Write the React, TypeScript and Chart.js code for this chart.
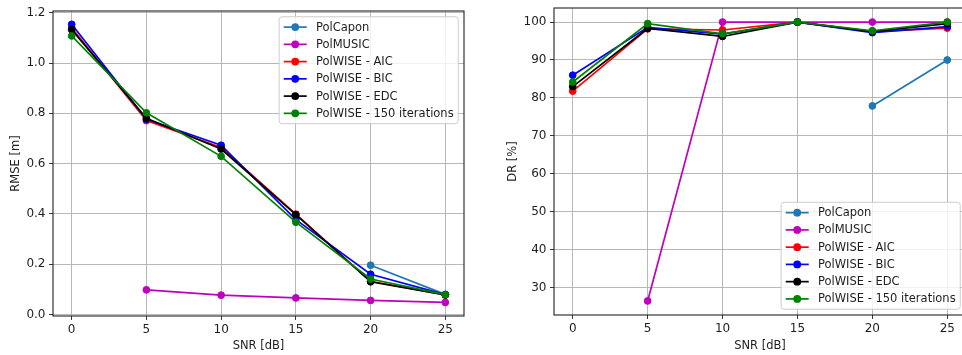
import React, { useEffect, useRef } from 'react';
import { Chart, registerables } from 'chart.js';

Chart.register(...registerables);

const snr = [0, 5, 10, 15, 20, 25];
const seriesNames = ['PolCapon', 'PolMUSIC', 'PolWISE - AIC', 'PolWISE - BIC', 'PolWISE - EDC', 'PolWISE - 150 iterations'];
const seriesColors = ['#1f77b4', '#bf00bf', '#ff0000', '#0000ff', '#000000', '#008000'];

const rmseCapon = [null, null, null, null, 0.196, 0.080];
const rmseMusic = [null, 0.098, 0.077, 0.066, 0.056, 0.048];
const rmseAic = [1.140, 0.771, 0.664, 0.399, 0.132, 0.078];
const rmseBic = [1.154, 0.776, 0.673, 0.377, 0.160, 0.079];
const rmseEdc = [1.133, 0.780, 0.658, 0.397, 0.130, 0.078];
const rmse150 = [1.108, 0.802, 0.629, 0.367, 0.141, 0.079];

const drCapon = [null, null, null, null, 77.9, 90.0];
const drMusic = [null, 26.5, 100, 100, 100, 100];
const drAic = [81.8, 98.2, 97.9, 100, 97.5, 98.4];
const drBic = [86.0, 98.6, 96.8, 100, 97.2, 98.8];
const drEdc = [83.0, 98.3, 96.2, 100, 97.5, 99.6];
const dr150 = [84.2, 99.6, 96.9, 100, 97.7, 100];

const xTicks = [0, 5, 10, 15, 20, 25];
const rmseTicks = [0, 0.2, 0.4, 0.6, 0.8, 1.0, 1.2];
const drTicks = [30, 40, 50, 60, 70, 80, 90, 100];

const FAMILY = '"DejaVu Sans", sans-serif';
const TEXT = '#1e1e1e';
const LEG_FS = 11.5;

const mplPlugin = {
  id: 'mplDecor',
  afterDatasetsDraw(chart: any, _args: any, opts: any) {
    const { ctx, chartArea } = chart;
    ctx.save();
    // spines
    ctx.strokeStyle = '#222';
    ctx.lineWidth = 1.1;
    ctx.strokeRect(chartArea.left, chartArea.top, chartArea.right - chartArea.left, chartArea.bottom - chartArea.top);
    // legend
    const fs = LEG_FS;
    ctx.font = `${fs}px ${FAMILY}`;
    const ds = chart.data.datasets;
    const textW = Math.max(...ds.map((d: any) => ctx.measureText(d.label).width));
    const pad = 0.4 * fs, handle = 2 * fs, gap = 0.8 * fs, spacing = 0.5 * fs, axpad = 0.5 * fs;
    const w = pad * 2 + handle + gap + textW;
    const h = pad * 2 + ds.length * fs + (ds.length - 1) * spacing;
    const x = chartArea.right - axpad - w;
    const y = opts.loc === 'upper right' ? chartArea.top + axpad : chartArea.bottom - axpad - h;
    ctx.beginPath();
    if ((ctx as any).roundRect) (ctx as any).roundRect(x, y, w, h, 3);
    else ctx.rect(x, y, w, h);
    ctx.fillStyle = 'rgba(255,255,255,0.8)';
    ctx.fill();
    ctx.strokeStyle = '#cccccc';
    ctx.lineWidth = 1;
    ctx.stroke();
    ds.forEach((d: any, i: number) => {
      const cy = y + pad + i * (fs + spacing) + fs / 2;
      const lx = x + pad;
      ctx.strokeStyle = d.borderColor;
      ctx.lineWidth = 1.7;
      ctx.beginPath();
      ctx.moveTo(lx, cy);
      ctx.lineTo(lx + handle, cy);
      ctx.stroke();
      ctx.beginPath();
      ctx.arc(lx + handle / 2, cy, 3.9, 0, Math.PI * 2);
      ctx.fillStyle = d.borderColor;
      ctx.fill();
      ctx.fillStyle = TEXT;
      ctx.textBaseline = 'middle';
      ctx.textAlign = 'left';
      ctx.fillText(d.label, lx + handle + gap, cy + 0.5);
    });
    ctx.restore();
  },
};

function makeConfig(p: any) {
  const n = p.series.length;
  return {
    type: 'line',
    data: {
      datasets: p.series.map((vals: any[], i: number) => ({
        label: seriesNames[i],
        data: snr.map((s, j) => ({ x: s, y: vals[j] })),
        borderColor: seriesColors[i],
        backgroundColor: seriesColors[i],
        pointBackgroundColor: seriesColors[i],
        pointBorderColor: seriesColors[i],
        borderWidth: 1.7,
        pointRadius: 3.4,
        pointBorderWidth: 1,
        spanGaps: false,
        tension: 0,
        order: n - 1 - i,
      })),
    },
    options: {
      animation: false,
      responsive: false,
      layout: { padding: p.padding },
      plugins: {
        legend: { display: false },
        tooltip: { enabled: false },
        mplDecor: { loc: p.loc },
      },
      scales: {
        x: {
          type: 'linear',
          min: -1.25,
          max: 26.25,
          afterBuildTicks: (s: any) => { s.ticks = xTicks.map((v) => ({ value: v })); },
          afterFit: (s: any) => { s.height = p.xHeight; s.paddingLeft = 0; s.paddingRight = 0; },
          grid: { color: '#b0b0b0', lineWidth: 0.9, tickColor: '#222', tickLength: 4, tickWidth: 0.9 },
          border: { display: false },
          ticks: { font: { family: FAMILY, size: 12 }, color: TEXT, padding: 3, maxRotation: 0, autoSkip: false, callback: (v: any) => String(v) },
          title: { display: true, text: 'SNR [dB]', font: { family: FAMILY, size: 11.5 }, color: TEXT, padding: { top: 2, bottom: 2 } },
        },
        y: {
          type: 'linear',
          min: p.yMin,
          max: p.yMax,
          afterBuildTicks: (s: any) => { s.ticks = p.yTicks.map((v: number) => ({ value: v })); },
          afterFit: (s: any) => { s.width = p.yWidth; s.paddingTop = 0; s.paddingBottom = 0; },
          grid: { color: '#b0b0b0', lineWidth: 0.9, tickColor: '#222', tickLength: 4, tickWidth: 0.9 },
          border: { display: false },
          ticks: { font: { family: FAMILY, size: 12 }, color: TEXT, padding: 3.5, autoSkip: false, callback: p.yFmt },
          title: { display: true, text: p.yTitle, font: { family: FAMILY, size: 11.5 }, color: TEXT, padding: { top: 9, bottom: 9 } },
        },
      },
    },
    plugins: [mplPlugin],
  };
}

function ChartCanvas(props: any) {
  const ref = useRef<HTMLCanvasElement | null>(null);
  useEffect(() => {
    if (!ref.current) return;
    const chart = new Chart(ref.current, makeConfig(props.cfg) as any);
    return () => chart.destroy();
  }, []);
  return (
    <canvas
      ref={ref}
      width={props.w}
      height={355}
      style={{ position: 'absolute', left: props.left, top: 0, width: props.w, height: 355 }}
    />
  );
}

export default function App() {
  const leftCfg = {
    series: [rmseCapon, rmseMusic, rmseAic, rmseBic, rmseEdc, rmse150],
    yMin: -0.006,
    yMax: 1.207,
    yTicks: rmseTicks,
    yFmt: (v: any) => Number(v).toFixed(1),
    yTitle: 'RMSE [m]',
    yWidth: 53,
    xHeight: 39,
    padding: { left: 0, top: 11, right: 16, bottom: 0 },
    loc: 'upper right',
  };
  const rightCfg = {
    series: [drCapon, drMusic, drAic, drBic, drEdc, dr150],
    yMin: 22.8,
    yMax: 103.7,
    yTicks: drTicks,
    yFmt: (v: any) => String(v),
    yTitle: 'DR [%]',
    yWidth: 57,
    xHeight: 40,
    padding: { left: 17, top: 8, right: 14, bottom: 0 },
    loc: 'lower right',
  };
  return (
    <div style={{ position: 'fixed', left: 0, top: 0, width: 962, height: 355, overflow: 'hidden', background: '#fff' }}>
      <ChartCanvas left={0} w={480} cfg={leftCfg} />
      <ChartCanvas left={480} w={500} cfg={rightCfg} />
    </div>
  );
}
